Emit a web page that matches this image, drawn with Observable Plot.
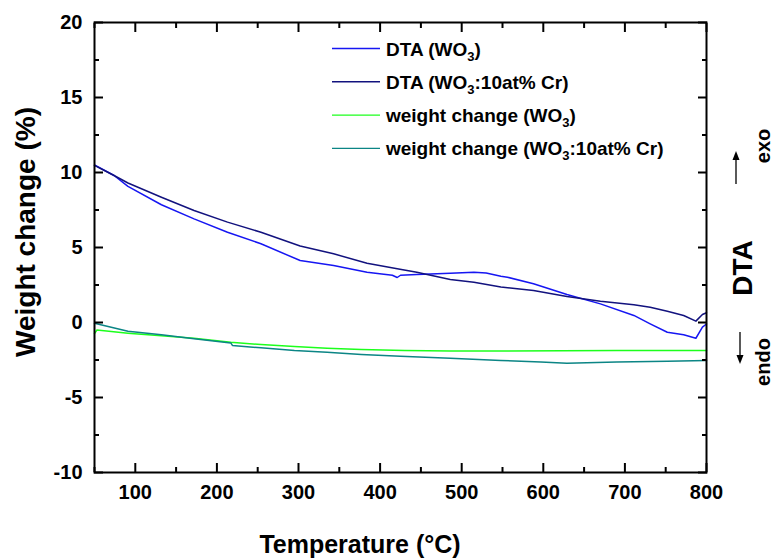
<!DOCTYPE html>
<html><head><meta charset="utf-8">
<script src="https://cdn.jsdelivr.net/npm/d3@7"></script>
<script src="https://cdn.jsdelivr.net/npm/@observablehq/plot@0.6"></script>
<style>
body{margin:0;background:#fff;}
#chart svg{font-family:"Liberation Sans",Arial,sans-serif;font-weight:bold;}
</style>
</head><body><div id="chart"></div>
<script>
// ---- data ----
const tDtaWO3 = [50,74,91,132,172,213,254,302,343,384,415,421,425,445,486,515,530,548,556,588,629,670,711,731,752,772,787,795,800];
const dtaWO3  = [10.5,9.8,9.07,7.85,6.91,6.02,5.25,4.13,3.8,3.35,3.15,3.0,3.15,3.2,3.29,3.35,3.3,3.09,3.02,2.58,1.87,1.24,0.47,-0.09,-0.65,-0.82,-1.05,-0.31,-0.1];

const tDtaCr = [50,74,91,132,172,213,254,302,343,384,421,445,486,515,548,588,629,670,711,731,752,772,787,795,800];
const dtaCr  = [10.47,9.8,9.3,8.35,7.47,6.69,6.02,5.1,4.58,3.95,3.58,3.35,2.87,2.69,2.36,2.13,1.73,1.42,1.18,1.02,0.75,0.47,0.09,0.53,0.65];

const tWcWO3 = [50,53,91,132,172,217,254,295,335,377,430,486,548,690,800];
const wcWO3  = [-0.73,-0.5,-0.71,-0.89,-1.05,-1.31,-1.47,-1.6,-1.71,-1.8,-1.87,-1.9,-1.9,-1.87,-1.87];

const tWcCr = [50,91,132,172,217,219,254,295,335,377,425,486,548,597,629,690,752,800];
const wcCr  = [-0.05,-0.58,-0.82,-1.09,-1.36,-1.53,-1.69,-1.87,-1.98,-2.13,-2.25,-2.38,-2.53,-2.64,-2.71,-2.64,-2.58,-2.53];

const seriesNames = ["DTA (WO3)","DTA (WO3:10at% Cr)","weight change (WO3)","weight change (WO3:10at% Cr)"];
const seriesColors = ["#1616f2","#12127e","#1cff1c","#0b8585"];

const xTicks = [100,200,300,400,500,600,700,800];
const xMinor = [50,150,250,350,450,550,650,750];
const yTicks = [-10,-5,0,5,10,15,20];
const yMinor = [-7.5,-2.5,2.5,7.5,12.5,17.5];

const xTitle = "Temperature (°C)";
const yTitle = "Weight change (%)";

// ---- build rows ----
function rows(ts, vs, name){ return ts.map((t,i)=>({T:t, v:vs[i], s:name})); }
const data = [
  ...rows(tDtaWO3, dtaWO3, seriesNames[0]),
  ...rows(tDtaCr, dtaCr, seriesNames[1]),
  ...rows(tWcWO3, wcWO3, seriesNames[2]),
  ...rows(tWcCr, wcCr, seriesNames[3])
];

const W = 775, H = 559, mL = 94, mR = 69, mT = 22, mB = 87;
const major = 9, minor = 5;
const tickSt = {stroke:"#000", strokeWidth:2, fill:"none", label:null};
// inward ticks: outward axis ticks shifted back inside the frame by their own length
function inwardX(vals, len){
  return [
    Plot.axisX(vals, {anchor:"bottom", tickSize:len, dy:-len, ...tickSt}),
    Plot.axisX(vals, {anchor:"top", tickSize:len, dy:len, ...tickSt})
  ];
}
function inwardY(vals, len){
  return [
    Plot.axisY(vals, {anchor:"left", tickSize:len, dx:len, ...tickSt}),
    Plot.axisY(vals, {anchor:"right", tickSize:len, dx:-len, ...tickSt})
  ];
}

const fmt = d => String(d);
const chart = Plot.plot({
  width: W, height: H,
  marginLeft: mL, marginRight: mR, marginTop: mT, marginBottom: mB,
  x: {domain:[50,800]},
  y: {domain:[-10,20]},
  color: {domain: seriesNames, range: seriesColors},
  marks: [
    Plot.line(data, {x:"T", y:"v", z:"s", stroke:"s", strokeWidth:1.5, curve:"linear"}),
    Plot.axisX(xTicks, {anchor:"bottom", tickSize:0, tickPadding:12, fontSize:20, fontWeight:"bold", label:null, tickFormat:fmt}),
    Plot.axisY(yTicks, {anchor:"left", tickSize:0, tickPadding:12, fontSize:20, fontWeight:"bold", label:null, tickFormat:fmt}),
    ...inwardX(xTicks, major), ...inwardX(xMinor, minor),
    ...inwardY(yTicks, major), ...inwardY(yMinor, minor),
    Plot.frame({stroke:"#000", strokeWidth:2})
  ]
});
document.getElementById("chart").appendChild(chart);

const svg = d3.select(chart);

// ---- titles ----
svg.append("text").attr("x", 360).attr("y", 553).attr("text-anchor","middle")
  .attr("font-size", 25).attr("font-weight","bold").attr("fill","#000").text(xTitle);
svg.append("text").attr("transform", `translate(35,232) rotate(-90)`).attr("text-anchor","middle")
  .attr("font-size", 28).attr("font-weight","bold").attr("fill","#000").text(yTitle);

// ---- legend ----
const leg = svg.append("g").attr("font-weight","bold").attr("font-size",19).attr("fill","#000").attr("text-anchor","start");
seriesNames.forEach((name,i)=>{
  const yy = 48.5 + i*33.3;
  leg.append("line").attr("x1",332).attr("x2",380).attr("y1",yy).attr("y2",yy)
     .attr("stroke", seriesColors[i]).attr("stroke-width",1.4);
  const t = leg.append("text").attr("x",386).attr("y",yy+7);
  const parts = name.split("WO3");
  t.append("tspan").text(parts[0] + "WO");
  t.append("tspan").attr("font-size",13).attr("dy",5).text("3");
  t.append("tspan").attr("dy",-5).text(parts[1]);
});

// ---- right side DTA label and arrows ----
const rs = svg.append("g").attr("font-weight","bold").attr("fill","#000");
rs.append("text").attr("transform","translate(752,268) rotate(-90)").attr("text-anchor","middle")
  .attr("font-size",28).text("DTA");
rs.append("text").attr("transform","translate(770,146) rotate(-90)").attr("text-anchor","middle")
  .attr("font-size",20).text("exo");
rs.append("text").attr("transform","translate(770,362) rotate(-90)").attr("text-anchor","middle")
  .attr("font-size",20).text("endo");
rs.append("line").attr("x1",736).attr("x2",736).attr("y1",184).attr("y2",158).attr("stroke","#000").attr("stroke-width",1.3);
rs.append("path").attr("d","M732.5,160 L736,151 L739.5,160 Z").attr("fill","#000");
rs.append("line").attr("x1",740).attr("x2",740).attr("y1",332).attr("y2",357).attr("stroke","#000").attr("stroke-width",1.3);
rs.append("path").attr("d","M736.5,355 L740,364 L743.5,355 Z").attr("fill","#000");
</script>
</body></html>
